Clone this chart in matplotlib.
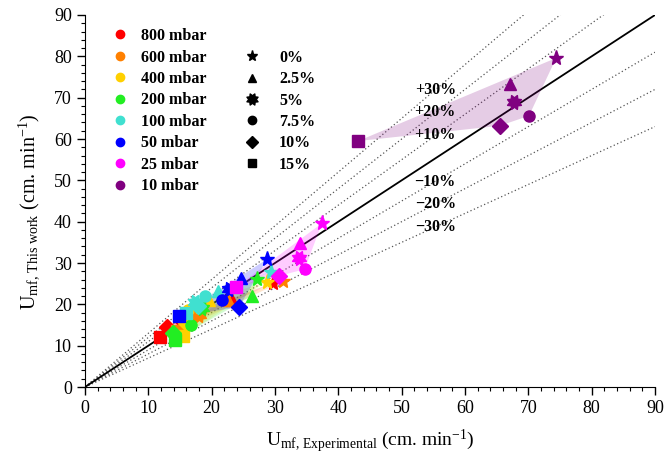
import numpy as np
import matplotlib
matplotlib.use("Agg")
import matplotlib.pyplot as plt
from matplotlib.lines import Line2D
from matplotlib.patches import Polygon
from matplotlib.path import Path

plt.rcParams['font.family'] = ['Liberation Serif', 'DejaVu Serif']
plt.rcParams['mathtext.fontset'] = 'custom'
plt.rcParams['mathtext.rm'] = 'Liberation Serif'
plt.rcParams['mathtext.it'] = 'Liberation Serif:italic'
plt.rcParams['mathtext.bf'] = 'Liberation Serif:bold'

pressures = ['800 mbar', '600 mbar', '400 mbar', '200 mbar', '100 mbar', '50 mbar', '25 mbar', '10 mbar']
colors = ['#ff0000', '#ff8000', '#ffd000', '#22ee22', '#40e0d0', '#0000ff', '#ff00ff', '#800080']
fractions = ['0%', '2.5%', '5%', '7.5%', '10%', '15%']

# heavy 8-pointed asterisk for the 5% series
_ang = np.linspace(0, 2*np.pi, 17)[:-1] + np.pi/8
_rad = np.where(np.arange(16) % 2 == 0, 1.0, 0.62)
_verts = np.column_stack([_rad*np.cos(_ang), _rad*np.sin(_ang)])
star8 = Path(np.vstack([_verts, _verts[:1]]), closed=True)
markers = ['*', '^', star8, 'o', 'D', 's']

# order of points in each series: 0%, 2.5%, 5%, 7.5%, 10%, 15%
exp_800 = [29.7, 23.2, 17.4, 15.0, 12.9, 11.8]
work_800 = [25.2, 21.0, 18.2, 16.4, 14.6, 12.2]
exp_600 = [31.3, 22.5, 18.0, 16.8, 15.5, 14.5]
work_600 = [25.6, 21.0, 17.5, 16.2, 14.2, 13.6]
exp_400 = [28.7, 19.5, 18.0, 16.3, 16.0, 15.5]
work_400 = [25.5, 21.0, 19.5, 18.6, 15.5, 12.3]
exp_200 = [27.1, 26.3, 18.4, 16.8, 13.9, 14.2]
work_200 = [26.1, 22.0, 19.1, 15.0, 13.0, 11.4]
exp_100 = [29.3, 21.0, 17.4, 19.0, 17.8, 16.0]
work_100 = [27.9, 23.3, 20.6, 22.0, 19.5, 18.0]
exp_50 = [28.8, 24.6, 22.7, 21.7, 24.3, 14.8]
work_50 = [31.0, 26.3, 23.6, 21.0, 19.3, 17.1]
exp_25 = [37.4, 33.9, 33.8, 34.7, 30.7, 23.8]
work_25 = [39.6, 34.8, 31.1, 28.5, 26.9, 24.1]
exp_10 = [74.4, 67.1, 67.7, 70.1, 65.5, 43.1]
work_10 = [79.6, 73.3, 69.0, 65.6, 63.2, 59.5]

exp_all = [exp_800, exp_600, exp_400, exp_200, exp_100, exp_50, exp_25, exp_10]
work_all = [work_800, work_600, work_400, work_200, work_100, work_50, work_25, work_10]

dev_lines = [1.3, 1.2, 1.1, 0.9, 0.8, 0.7]
dev_labels = ['+30%', '+20%', '+10%', '\u221210%', '\u221220%', '\u221230%']
dev_label_y = [71.9, 66.5, 61.0, 49.6, 44.3, 38.7]
dev_label_x = 55.3


def hull(points):
    pts = sorted(set(points))
    if len(pts) < 3:
        return pts
    def cross(o, a, b):
        return (a[0]-o[0])*(b[1]-o[1]) - (a[1]-o[1])*(b[0]-o[0])
    lower, upper = [], []
    for p in pts:
        while len(lower) >= 2 and cross(lower[-2], lower[-1], p) <= 0:
            lower.pop()
        lower.append(p)
    for p in reversed(pts):
        while len(upper) >= 2 and cross(upper[-2], upper[-1], p) <= 0:
            upper.pop()
        upper.append(p)
    return lower[:-1] + upper[:-1]


fig = plt.figure(figsize=(6.7, 4.59), dpi=100)
ax = fig.add_axes([85/670, 1-387/459, (655-85)/670, (387-15)/459])

xx = np.array([0, 90])
for s in dev_lines:
    ax.plot(xx, s*xx, linestyle=(0, (1, 2)), color='#555555', lw=0.9, zorder=1)
ax.plot(xx, xx, color='black', lw=1.3, zorder=2)

for c, ex, wk in zip(colors, exp_all, work_all):
    h = hull(list(zip(ex, wk)))
    ax.add_patch(Polygon(h, closed=True, facecolor=c, alpha=0.2, edgecolor='none', zorder=3))

for c, ex, wk in zip(colors, exp_all, work_all):
    for x, y, m in zip(ex, wk, markers):
        ms = 11 if m == '*' else (10 if m is star8 else 8)
        ax.plot(x, y, marker=m, color=c, ms=ms, linestyle='none', zorder=4)

for t, ty in zip(dev_labels, dev_label_y):
    ax.text(dev_label_x, ty, t, fontsize=11.5, fontweight='bold', ha='center', va='center', zorder=5)

ax.set_xlim(0, 90)
ax.set_ylim(0, 90)
ax.set_xticks(np.arange(0, 91, 10))
ax.set_yticks(np.arange(0, 91, 10))
ax.set_xticks(np.arange(0, 91, 2), minor=True)
ax.set_yticks(np.arange(0, 91, 2), minor=True)
ax.tick_params(which='major', direction='out', length=6, width=1, labelsize=13)
ax.tick_params(which='minor', direction='out', length=3, width=0.8)
for side in ['top', 'right']:
    ax.spines[side].set_visible(False)

ax.set_xlabel(r'U$_{\mathrm{mf,\,Experimental}}$ (cm. min$^{-1}$)', fontsize=14, labelpad=8)
ax.set_ylabel(r'U$_{\mathrm{mf,\,This\ work}}$ (cm. min$^{-1}$)', fontsize=14.5, labelpad=8)
ax.yaxis.set_label_coords(-0.075, 0.47)

h1 = [Line2D([], [], marker='o', color=c, linestyle='none', ms=6) for c in colors]
leg1 = ax.legend(h1, pressures, loc='upper left', bbox_to_anchor=(0.03, 0.982), frameon=False,
                 prop={'weight': 'bold', 'size': 11.5}, handletextpad=0.55, handlelength=1.5,
                 labelspacing=0.34, borderaxespad=0)
ax.add_artist(leg1)
h2 = [Line2D([], [], marker=m, color='black', linestyle='none',
             ms=(8 if m == '*' else (8 if m is star8 else 6))) for m in markers]
ax.legend(h2, fractions, loc='upper left', bbox_to_anchor=(0.265, 0.924), frameon=False,
          prop={'weight': 'bold', 'size': 11.5}, handletextpad=1.1, handlelength=1.2,
          labelspacing=0.34, borderaxespad=0)

fig.savefig('out.png', dpi=100)
